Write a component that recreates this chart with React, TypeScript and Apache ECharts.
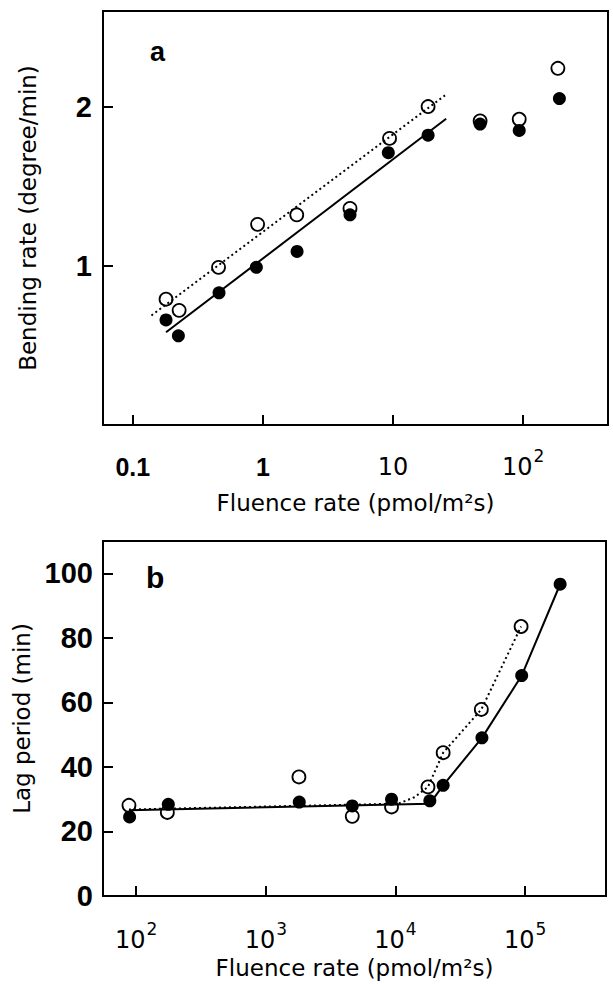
import React, { useEffect, useRef } from 'react';
import * as echarts from 'echarts';

// Panel a: bending rate vs fluence rate
const openA_x = [0.18, 0.227, 0.456, 0.91, 1.82, 4.67, 9.4, 18.6, 46.7, 93.3, 185];
const openA_y = [0.79, 0.72, 0.99, 1.26, 1.32, 1.36, 1.80, 2.00, 1.91, 1.92, 2.24];
const filledA_x = [0.18, 0.224, 0.46, 0.89, 1.83, 4.67, 9.2, 18.6, 46.7, 93.3, 190];
const filledA_y = [0.66, 0.56, 0.83, 0.99, 1.09, 1.32, 1.71, 1.82, 1.89, 1.85, 2.05];
const fitOpenA_x = [0.139, 25.1];
const fitOpenA_y = [0.688, 2.07];
const fitFilledA_x = [0.18, 25.6];
const fitFilledA_y = [0.582, 1.923];
const xTicksA = [0.1, 1, 10, 100];
const xTickTextA = ['0.1', '1', '10', '10^2'];
const yTicksA = [1, 2];

// Panel b: lag period vs fluence rate
const openB_x = [88, 174, 1800, 4640, 9320, 17800, 23300, 45900, 93000];
const openB_y = [28.1, 25.9, 36.9, 24.7, 27.6, 33.8, 44.4, 57.8, 83.5];
const filledB_x = [89, 177, 1810, 4640, 9320, 18400, 23300, 46400, 94000, 186000];
const filledB_y = [24.5, 28.4, 29.1, 27.9, 30.0, 29.5, 34.3, 49.0, 68.3, 96.6];
const fitOpenB_x = [88, 10500, 14000, 17800, 23300, 45900, 93000];
const fitOpenB_y = [26.8, 28.6, 30.6, 33.8, 44.4, 57.8, 83.5];
const fitFilledB_x = [88, 18400, 23300, 46400, 94000, 186000];
const fitFilledB_y = [26.6, 28.6, 34.3, 49.0, 68.3, 96.6];
const xTicksB = [100, 1000, 10000, 100000];
const xTickTextB = ['10^2', '10^3', '10^4', '10^5'];
const yTicksB = [0, 20, 40, 60, 80, 100];

const xNameA = 'Fluence rate (pmol/m²s)';
const yNameA = 'Bending rate (degree/min)';
const xNameB = 'Fluence rate (pmol/m²s)';
const yNameB = 'Lag period (min)';

const zip = (xs: number[], ys: number[]) => xs.map((x, i) => [x, ys[i]]);

const NAME_FONT = 'DejaVu Sans';
const BOLD_A = new Set(['0.1', '1']);

function tickFormatter(ticks: number[], texts: string[], boldSet: Set<string>) {
  return (v: number) => {
    const idx = ticks.findIndex((t) => Math.abs(Math.log10(v) - Math.log10(t)) < 0.01);
    if (idx < 0) return '';
    const txt = texts[idx];
    const parts = txt.split('^');
    if (parts.length === 2) return `{n|${parts[0]}}{s|${parts[1]}}`;
    return boldSet.has(txt) ? `{nb|${txt}}` : `{n|${txt}}`;
  };
}

const rich = {
  n: { fontFamily: 'DejaVu Sans', fontSize: 24, color: '#000', lineHeight: 40 },
  nb: { fontFamily: 'Liberation Sans', fontWeight: 'bold', fontSize: 25, color: '#000', lineHeight: 40 },
  s: { fontFamily: 'DejaVu Sans', fontSize: 17, color: '#000', lineHeight: 17, verticalAlign: 'top', padding: [0, 0, 0, 1] },
};

export default function App() {
  const ref = useRef<HTMLDivElement>(null);
  useEffect(() => {
    if (!ref.current) return;
    const chart = echarts.init(ref.current, null, { renderer: 'svg' });
    const axisLine = { show: true, onZero: false, lineStyle: { color: '#000', width: 2 } };
    const tick = { show: true, inside: true, length: 10, lineStyle: { color: '#000', width: 2 } };
    const openStyle = { color: '#fff', borderColor: '#000', borderWidth: 1.8, opacity: 1 };
    const filledStyle = { color: '#000', opacity: 1 };
    chart.setOption({
      animation: false,
      backgroundColor: '#fff',
      grid: [
        { left: 103, top: 11, width: 505, height: 414, show: true, borderColor: '#000', borderWidth: 2, backgroundColor: 'transparent' },
        { left: 103, top: 541, width: 503, height: 355, show: true, borderColor: '#000', borderWidth: 2, backgroundColor: 'transparent' },
      ],
      xAxis: [
        {
          type: 'log', gridIndex: 0, min: 0.059, max: 449, logBase: 10,
          axisLine, axisTick: tick, splitLine: { show: false },
          axisLabel: { margin: 22, formatter: tickFormatter(xTicksA, xTickTextA, BOLD_A), rich, showMinLabel: false, showMaxLabel: false },
          name: xNameA, nameLocation: 'middle', nameGap: 66,
          nameTextStyle: { fontFamily: NAME_FONT, fontSize: 23, color: '#000' },
        },
        {
          type: 'log', gridIndex: 1, min: 55.5, max: 420000, logBase: 10,
          axisLine, axisTick: tick, splitLine: { show: false },
          axisLabel: { margin: 24, formatter: tickFormatter(xTicksB, xTickTextB, new Set()), rich, showMinLabel: false, showMaxLabel: false },
          name: xNameB, nameLocation: 'middle', nameGap: 60,
          nameTextStyle: { fontFamily: NAME_FONT, fontSize: 23, color: '#000' },
        },
      ],
      yAxis: [
        {
          type: 'value', gridIndex: 0, min: 0, max: 2.6, interval: 1,
          axisLine, axisTick: tick, splitLine: { show: false },
          axisLabel: {
            margin: 11, fontFamily: 'Liberation Sans', fontWeight: 'bold', fontSize: 29, color: '#000',
            formatter: (v: number) => (yTicksA.includes(v) ? String(v) : ''),
          },
          name: yNameA, nameLocation: 'middle', nameGap: 64,
          nameTextStyle: { fontFamily: NAME_FONT, fontSize: 23, color: '#000' },
        },
        {
          type: 'value', gridIndex: 1, min: 0, max: 110, interval: 20,
          axisLine, axisTick: tick, splitLine: { show: false },
          axisLabel: {
            margin: 10, fontFamily: 'Liberation Sans', fontWeight: 'bold', fontSize: 29, color: '#000',
            formatter: (v: number) => (yTicksB.includes(v) ? String(v) : ''),
          },
          name: yNameB, nameLocation: 'middle', nameGap: 68,
          nameTextStyle: { fontFamily: NAME_FONT, fontSize: 23, color: '#000' },
        },
      ],
      graphic: [
        { type: 'text', left: 150, top: 38, style: { text: 'a', font: 'bold 27px "Liberation Sans"', fill: '#000' } },
        { type: 'text', left: 146, top: 562, style: { text: 'b', font: 'bold 30px "Liberation Sans"', fill: '#000' } },
      ],
      series: [
        { type: 'line', xAxisIndex: 0, yAxisIndex: 0, data: zip(fitOpenA_x, fitOpenA_y), symbol: 'none', lineStyle: { color: '#000', width: 2, type: [2, 3] } },
        { type: 'line', xAxisIndex: 0, yAxisIndex: 0, data: zip(fitFilledA_x, fitFilledA_y), symbol: 'none', lineStyle: { color: '#000', width: 2 } },
        { type: 'scatter', xAxisIndex: 0, yAxisIndex: 0, data: zip(openA_x, openA_y), symbol: 'circle', symbolSize: 13, itemStyle: openStyle },
        { type: 'scatter', xAxisIndex: 0, yAxisIndex: 0, data: zip(filledA_x, filledA_y), symbol: 'circle', symbolSize: 13, itemStyle: filledStyle },
        { type: 'line', xAxisIndex: 1, yAxisIndex: 1, data: zip(fitOpenB_x, fitOpenB_y), symbol: 'none', lineStyle: { color: '#000', width: 2, type: [2, 3] } },
        { type: 'line', xAxisIndex: 1, yAxisIndex: 1, data: zip(fitFilledB_x, fitFilledB_y), symbol: 'none', lineStyle: { color: '#000', width: 2 } },
        { type: 'scatter', xAxisIndex: 1, yAxisIndex: 1, data: zip(openB_x, openB_y), symbol: 'circle', symbolSize: 13, itemStyle: openStyle },
        { type: 'scatter', xAxisIndex: 1, yAxisIndex: 1, data: zip(filledB_x, filledB_y), symbol: 'circle', symbolSize: 13, itemStyle: filledStyle },
      ],
    });
    return () => chart.dispose();
  }, []);
  return <div ref={ref} style={{ position: 'absolute', left: 0, top: 0, width: 613, height: 984 }} />;
}
